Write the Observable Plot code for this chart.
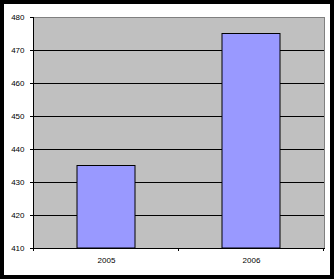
<!DOCTYPE html>
<html><head><meta charset="utf-8">
<script src="https://cdn.jsdelivr.net/npm/d3@7"></script>
<script src="https://cdn.jsdelivr.net/npm/@observablehq/plot@0.6"></script>
<style>
html,body{margin:0;padding:0;background:#fff;}
#wrap{width:326px;height:271px;border:4px solid #000;background:#fff;}
svg{display:block;}
</style></head><body>
<div id="wrap"></div>
<script>
const years = ["2005", "2006"];
const values = [435, 475];
const yTicks = [410, 420, 430, 440, 450, 460, 470, 480];
const yBase = 410;

const data = years.map((y, i) => ({year: y, value: values[i]}));

function boundaryTicks(index, scales, values, dims) {
  const g = d3.create("svg:g");
  const x = scales.x;
  const bw = x.bandwidth();
  const step = x.step();
  const y0 = dims.height - dims.marginBottom;
  const xs = [x(years[0]) - (step - bw) / 2].concat(years.map(d => x(d) + bw + (step - bw) / 2));
  for (const px of xs) {
    g.append("line").attr("x1", px).attr("x2", px).attr("y1", y0).attr("y2", y0 + 3)
      .attr("stroke", "#000").attr("shape-rendering", "crispEdges");
  }
  return g.node();
}

const chart = Plot.plot({
  width: 326,
  height: 271,
  marginLeft: 29,
  marginRight: 6,
  marginTop: 13,
  marginBottom: 27,
  style: {fontFamily: "Liberation Sans, Arial, sans-serif", fontSize: "8px", color: "#000", background: "#fff"},
  x: {domain: years, paddingInner: 0.6, paddingOuter: 0.3, align: 0.5, label: null},
  y: {domain: [410, 480], label: null},
  marks: [
    Plot.frame({fill: "#C0C0C0", stroke: "#808080"}),
    Plot.gridY(yTicks.filter(t => t > 410 && t < 480), {stroke: "#000", strokeOpacity: 1}),
    Plot.rectY(data, {x: "year", y1: yBase, y2: "value", fill: "#9999FF", stroke: "#000", strokeWidth: 1}),
    Plot.frame({anchor: "left", stroke: "#000"}),
    Plot.frame({anchor: "bottom", stroke: "#000"}),
    Plot.axisY(yTicks, {tickSize: 3, tickPadding: 6, stroke: "#000", fill: "#000"}),
    Plot.axisX({tickSize: 0, tickPadding: 9, fill: "#000"}),
    boundaryTicks
  ]
});
document.getElementById("wrap").appendChild(chart);
</script>
</body></html>
